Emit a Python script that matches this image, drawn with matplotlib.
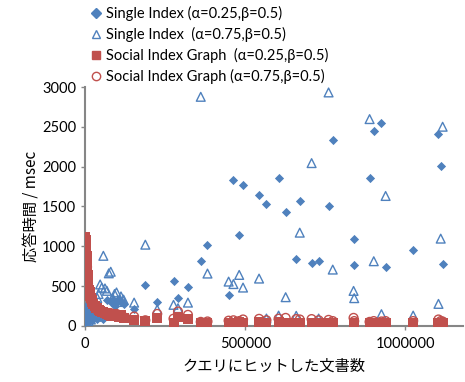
import matplotlib
matplotlib.use("Agg")
import matplotlib.pyplot as plt
from matplotlib.lines import Line2D

plt.rcParams['font.family'] = ['Lato', 'DejaVu Sans']
jp = ['Noto Sans CJK JP', 'DejaVu Sans']

# number of documents hit by each query (x) and response time in msec (y)
docs = [1000, 2000, 3000, 4000, 5000, 6000, 7000, 8000, 9000, 10000,
        12000, 14000, 16000, 18000, 20000, 23000, 26000, 30000, 34000, 38000,
        42000, 47000, 52000, 57000, 62000, 68000, 74000, 80000, 86000, 92000,
        98000, 105000, 112000, 120000,
        153000, 188000, 225000, 276000, 290000, 321000, 361000, 382000, 448000, 463000,
        481000, 493000, 543000, 566000, 604000, 626000, 659000, 670000, 707000, 729000,
        760000, 773000, 838000, 840000, 888000, 901000, 925000, 938000, 1024000, 1103000,
        1110000, 1116000]

single_025 = [50, 120, 200, 250, 80, 150, 100, 230, 60, 180,
              140, 90, 200, 120, 70, 160, 100, 130, 190, 80,
              150, 110, 170, 90, 130, 330, 150, 300, 320, 250,
              290, 340, 300, 280,
              213, 511, 297, 561, 351, 490, 820, 1010, 383, 1832,
              1140, 1766, 1644, 1531, 1861, 1427, 845, 1569, 795, 812,
              1510, 2334, 1096, 766, 1861, 2447, 2552, 745, 958, 2406,
              2012, 778]

single_075 = [30, 80, 150, 60, 120, 200, 100, 90, 170, 60,
              140, 110, 220, 80, 150, 250, 130, 300, 200, 350,
              400, 520, 480, 880, 470, 440, 660, 680, 350, 400,
              420, 300, 370, 330,
              292, 1020, 205, 264, 222, 292, 2878, 657, 556, 525,
              640, 481, 594, 92, 129, 360, 126, 1171, 2045, 92,
              2933, 707, 439, 348, 2598, 812, 147, 1632, 129, 276,
              1096, 2502]

social_025 = [1120, 1080, 1000, 940, 880, 800, 720, 640, 560, 500,
              450, 420, 380, 350, 320, 300, 280, 250, 230, 220,
              200, 190, 180, 170, 160, 150, 140, 130, 150, 120,
              130, 110, 140, 100,
              75, 63, 100, 38, 117, 88, 33, 40, 40, 40,
              45, 38, 45, 40, 45, 40, 40, 30, 40, 30,
              40, 40, 40, 30, 30, 35, 35, 35, 35, 40,
              30, 35]

social_075 = [1050, 1000, 920, 860, 800, 740, 680, 600, 530, 470,
              420, 390, 360, 330, 300, 280, 260, 240, 220, 200,
              190, 180, 170, 160, 170, 150, 140, 160, 140, 130,
              150, 120, 130, 110,
              117, 70, 150, 90, 180, 138, 50, 55, 65, 70,
              60, 80, 88, 70, 90, 100, 85, 80, 85, 70,
              75, 60, 100, 60, 50, 60, 55, 60, 60, 80,
              60, 55]

labels = ["Single Index (α=0.25,β=0.5)",
          "Single Index  (α=0.75,β=0.5)",
          "Social Index Graph  (α=0.25,β=0.5)",
          "Social Index Graph (α=0.75,β=0.5)"]

blue = "#4F81BD"
red = "#C0504D"

fig = plt.figure(figsize=(4.65, 3.82), dpi=100)
ax = fig.add_axes([0.183, 0.147, 0.813, 0.625])

ax.scatter(docs, single_025, marker="D", s=22, color=blue, linewidths=0, zorder=3)
ax.scatter(docs, single_075, marker="^", s=40, facecolors="none", edgecolors=blue,
           linewidths=1.0, zorder=3)
ax.scatter(docs, social_025, marker="s", s=45, color=red, linewidths=0, zorder=4)
ax.scatter(docs, social_075, marker="o", s=40, facecolors="none", edgecolors=red,
           linewidths=1.0, zorder=4)

ax.set_xlim(0, 1180000)
ax.set_ylim(0, 3000)
ax.set_xticks([0, 500000, 1000000])
ax.set_xticklabels(["0", "500000", "1000000"])
ax.set_yticks(range(0, 3001, 500))

for side in ["top", "right"]:
    ax.spines[side].set_visible(False)
for side in ["left", "bottom"]:
    ax.spines[side].set_color("#868686")
    ax.spines[side].set_linewidth(1.5)
ax.tick_params(axis="both", colors="#868686", labelcolor="black", labelsize=10.5,
               length=3, width=1)
ax.tick_params(axis="x", pad=5)

ax.set_xlabel("クエリにヒットした文書数", family=jp, fontsize=11, labelpad=5)
ax.set_ylabel("応答時間 / msec", family=jp, fontsize=11, labelpad=1)

handles = [
    Line2D([], [], ls="none", marker="D", ms=5, color=blue, mec=blue),
    Line2D([], [], ls="none", marker="^", ms=6, mfc="none", mec=blue),
    Line2D([], [], ls="none", marker="s", ms=6, color=red, mec=red),
    Line2D([], [], ls="none", marker="o", ms=6, mfc="none", mec=red),
]
fig.legend(handles, labels, loc="upper left", bbox_to_anchor=(0.172, 1.01),
           frameon=False, fontsize=10.5, handlelength=0.8, handletextpad=0.3,
           labelspacing=0.4, borderpad=0.2)

fig.savefig("out.png", dpi=100)
